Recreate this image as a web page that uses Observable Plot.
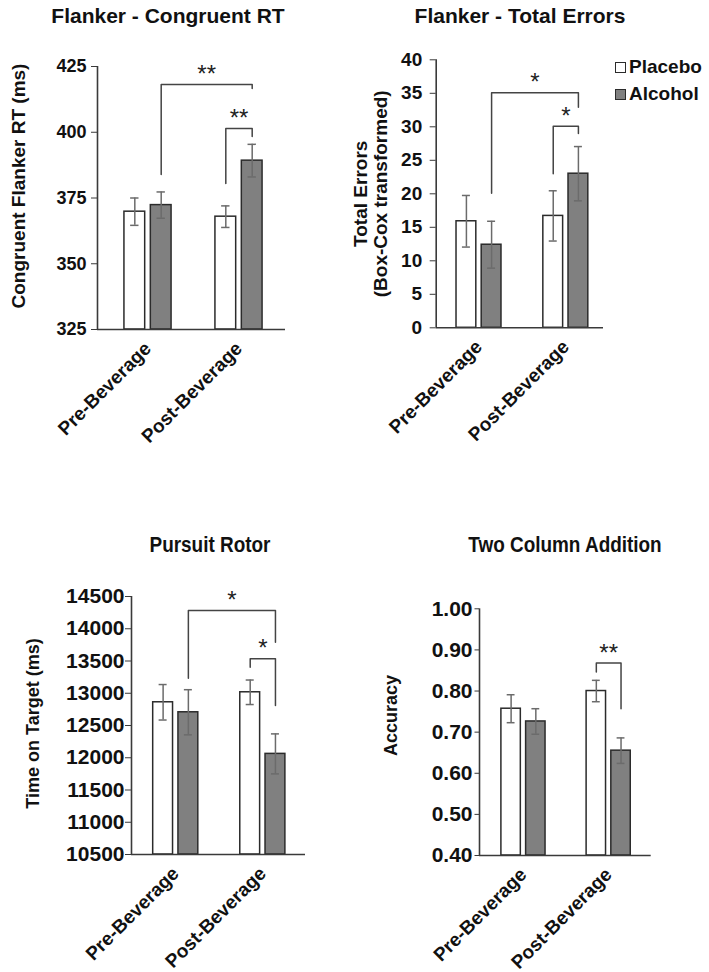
<!DOCTYPE html>
<html>
<head>
<meta charset="utf-8">
<script src="https://cdn.jsdelivr.net/npm/d3@7"></script>
<script src="https://cdn.jsdelivr.net/npm/@observablehq/plot@0.6"></script>
<style>
  html, body { margin: 0; padding: 0; background: #fff; }
  #root { position: relative; width: 709px; height: 972px; background: #fff; overflow: hidden;
          font-family: "Liberation Sans", Arial, sans-serif; color: #111; }
  .title { position: absolute; font-weight: bold; white-space: nowrap; line-height: 1; }
  .top-title { font-size: 21px; transform: translate(-50%, -50%); }
  .bottom-title { font-size: 22px; transform: translate(-50%, -50%) scaleX(0.86); }
  .panel { position: absolute; }
  .legend-item { position: absolute; display: flex; align-items: center; font-weight: bold; font-size: 19px; white-space: nowrap; transform: translateY(-50%); }
  .swatch { width: 9px; height: 9px; border: 1px solid #2b2b2b; margin-right: 3px; box-sizing: content-box; }
</style>
</head>
<body>
<div id="root"></div>
<script>
// ---------------- data ----------------
const groups = ["Pre-Beverage", "Post-Beverage"];
const conditions = ["Placebo", "Alcohol"];

// Flanker - Congruent RT (ms)
const rtPlacebo = [369.8, 367.9];
const rtAlcohol = [372.3, 389.2];
const rtPlaceboSE = [5.2, 4.1];
const rtAlcoholSE = [5.0, 6.2];
const rtTicks = [325, 350, 375, 400, 425];

// Flanker - Total Errors (Box-Cox transformed)
const errPlacebo = [15.9, 16.7];
const errAlcohol = [12.4, 23.0];
const errPlaceboSE = [3.85, 3.75];
const errAlcoholSE = [3.5, 4.05];
const errTicks = [0, 5, 10, 15, 20, 25, 30, 35, 40];

// Pursuit Rotor - Time on Target (ms)
const prPlacebo = [12860, 13015];
const prAlcohol = [12705, 12060];
const prPlaceboSE = [275, 190];
const prAlcoholSE = [350, 310];
const prTicks = [10500, 11000, 11500, 12000, 12500, 13000, 13500, 14000, 14500];

// Two Column Addition - Accuracy
const accPlacebo = [0.757, 0.800];
const accAlcohol = [0.726, 0.655];
const accPlaceboSE = [0.034, 0.026];
const accAlcoholSE = [0.031, 0.031];
const accTicks = [0.4, 0.5, 0.6, 0.7, 0.8, 0.9, 1.0];

// significance brackets (levels, in data units)
const rtBrackets = [
  {from: ["Pre-Beverage", "Alcohol"], to: ["Post-Beverage", "Alcohol"], y: 418.2, yFrom: 383.9, yTo: 416.6, label: "**"},
  {from: ["Post-Beverage", "Placebo"], to: ["Post-Beverage", "Alcohol"], y: 401.4, yFrom: 380.5, yTo: 398.4, label: "**"}
];
const errBrackets = [
  {from: ["Pre-Beverage", "Alcohol"], to: ["Post-Beverage", "Alcohol"], y: 35.1, yFrom: 20.1, yTo: 32.9, label: "*"},
  {from: ["Post-Beverage", "Placebo"], to: ["Post-Beverage", "Alcohol"], y: 30.1, yFrom: 23.0, yTo: 29.0, label: "*"}
];
const prBrackets = [
  {from: ["Pre-Beverage", "Alcohol"], to: ["Post-Beverage", "Alcohol"], y: 14283, yFrom: 13233, yTo: 13791, label: "*"},
  {from: ["Post-Beverage", "Placebo"], to: ["Post-Beverage", "Alcohol"], y: 13534, yFrom: 13404, yTo: 12810, label: "*"}
];
const accBrackets = [
  {from: ["Post-Beverage", "Placebo"], to: ["Post-Beverage", "Alcohol"], y: 0.868, yFrom: 0.846, yTo: 0.757, label: "**"}
];

// ---------------- layout ----------------
const OFF = 0.145, HW = 0.114, CAP = 0.046;
const xOf = (g, c) => groups.indexOf(g) + (conditions.indexOf(c) === 0 ? -OFF : OFF);

function buildRows(placebo, alcohol, placeboSE, alcoholSE) {
  const rows = [];
  groups.forEach((g, i) => {
    rows.push({group: g, condition: conditions[0], mean: placebo[i], se: placeboSE[i]});
    rows.push({group: g, condition: conditions[1], mean: alcohol[i], se: alcoholSE[i]});
  });
  return rows;
}
const xc = d => xOf(d.group, d.condition);

const root = document.getElementById("root");

function panel(cfg, rows, brackets) {
  const [fl, fr, ft, fb] = cfg.frame;
  const yMin = cfg.ticks[0], yMax = cfg.ticks[cfg.ticks.length - 1];
  const paths = brackets.flatMap((b, k) => {
    const x1 = xOf(...b.from), x2 = xOf(...b.to);
    return [{k, x: x1, y: b.yFrom}, {k, x: x1, y: b.y}, {k, x: x2, y: b.y}, {k, x: x2, y: b.yTo}];
  });
  const svg = Plot.plot({
    width: cfg.width, height: cfg.height,
    marginLeft: fl - cfg.left, marginRight: cfg.left + cfg.width - fr,
    marginTop: ft - cfg.top, marginBottom: cfg.top + cfg.height - fb,
    x: {type: "linear", domain: cfg.xDomain, axis: null},
    y: {type: "linear", domain: [yMin, yMax], axis: null},
    color: {domain: conditions, range: ["#ffffff", "#808080"]},
    style: {background: "transparent", overflow: "visible", color: "#111",
            fontFamily: '"Liberation Sans", Arial, sans-serif', fontSize: "18px"},
    marks: [
      Plot.rect(rows, {x1: d => xc(d) - HW, x2: d => xc(d) + HW, y1: () => yMin, y2: "mean",
                       fill: "condition", stroke: "#2b2b2b", strokeWidth: 1.5}),
      Plot.ruleX(rows, {x: xc, y1: d => d.mean - d.se, y2: d => d.mean + d.se, stroke: "#6b6b6b", strokeWidth: 1.5}),
      Plot.ruleY(rows, {x1: d => xc(d) - CAP, x2: d => xc(d) + CAP, y: d => d.mean + d.se, stroke: "#6b6b6b", strokeWidth: 1.5}),
      Plot.ruleY(rows, {x1: d => xc(d) - CAP, x2: d => xc(d) + CAP, y: d => d.mean - d.se, stroke: "#6b6b6b", strokeWidth: 1.5}),
      Plot.ruleY([yMin], {stroke: "#3a3a3a", strokeWidth: 1.6}),
      Plot.ruleX([cfg.xDomain[0]], {stroke: "#3a3a3a", strokeWidth: 1.6}),
      Plot.axisY(cfg.ticks, {tickSize: cfg.tickSize, tickPadding: cfg.tickPadding, tickFormat: cfg.tickFormat,
                             fontSize: cfg.tickFont, fontWeight: "bold", label: null, stroke: "#3a3a3a"}),
      Plot.axisX([0, 1], {tickFormat: i => groups[i], tickRotate: -45, tickSize: 0, tickPadding: cfg.xPad,
                          fontSize: 19, fontWeight: "bold", label: null}),
      Plot.text([cfg.yLabel], {text: d => d, frameAnchor: "left", textAnchor: "middle", lineAnchor: "middle",
                               rotate: -90, dx: cfg.yLabelDx, dy: cfg.yLabelDy,
                               fontSize: cfg.yLabelFont, fontWeight: "bold", lineHeight: cfg.lineHeight || 1}),
      Plot.line(paths, {x: "x", y: "y", z: "k", stroke: "#444", strokeWidth: 1.5}),
      Plot.text(brackets, {x: b => (xOf(...b.from) + xOf(...b.to)) / 2, y: "y", text: "label",
                           dy: -10, fontSize: 24, lineAnchor: "middle", fill: "#222"})
    ]
  });
  const wrap = document.createElement("div");
  wrap.className = "panel";
  wrap.style.left = cfg.left + "px";
  wrap.style.top = cfg.top + "px";
  wrap.appendChild(svg);
  root.appendChild(wrap);
}

panel({left: 0, top: 0, width: 354, height: 486, frame: [97, 285, 66, 329], xDomain: [-0.555, 1.511],
       ticks: rtTicks, tickFormat: d3.format("d"), tickSize: 6, tickPadding: 5, tickFont: 18, xPad: 16,
       yLabel: "Congruent Flanker RT (ms)", yLabelDx: -79, yLabelDy: -12, yLabelFont: 19},
      buildRows(rtPlacebo, rtAlcohol, rtPlaceboSE, rtAlcoholSE), rtBrackets);

panel({left: 354, top: 0, width: 355, height: 486, frame: [435.7, 603, 59.3, 327.3], xDomain: [-0.493, 1.434],
       ticks: errTicks, tickFormat: d3.format("d"), tickSize: 6, tickPadding: 8, tickFont: 19, xPad: 16,
       yLabel: "Total Errors\n(Box-Cox transformed)", yLabelDx: -65.4, yLabelDy: 0, yLabelFont: 19, lineHeight: 1.02},
      buildRows(errPlacebo, errAlcohol, errPlaceboSE, errAlcoholSE), errBrackets);

panel({left: 0, top: 486, width: 354, height: 486, frame: [131, 305, 596, 854], xDomain: [-0.508, 1.49],
       ticks: prTicks, tickFormat: d3.format("d"), tickSize: 6, tickPadding: 1, tickFont: 21, xPad: 16,
       yLabel: "Time on Target (ms)", yLabelDx: -98, yLabelDy: -2, yLabelFont: 18},
      buildRows(prPlacebo, prAlcohol, prPlaceboSE, prAlcoholSE), prBrackets);

panel({left: 354, top: 486, width: 355, height: 486, frame: [479, 650.7, 608.3, 855], xDomain: [-0.516, 1.499],
       ticks: accTicks, tickFormat: d3.format(".2f"), tickSize: 4.5, tickPadding: 2.5, tickFont: 21, xPad: 16,
       yLabel: "Accuracy", yLabelDx: -88.3, yLabelDy: -16.6, yLabelFont: 18},
      buildRows(accPlacebo, accAlcohol, accPlaceboSE, accAlcoholSE), accBrackets);

// titles
const titles = [
  {text: "Flanker - Congruent RT", x: 168, y: 15, cls: "top-title"},
  {text: "Flanker - Total Errors", x: 520, y: 15, cls: "top-title"},
  {text: "Pursuit Rotor", x: 210, y: 545, cls: "bottom-title"},
  {text: "Two Column Addition", x: 565, y: 545, cls: "bottom-title"}
];
for (const t of titles) {
  const el = document.createElement("div");
  el.className = "title " + t.cls;
  el.textContent = t.text;
  el.style.left = t.x + "px";
  el.style.top = t.y + "px";
  root.appendChild(el);
}

// legend
const legendFill = {Placebo: "#ffffff", Alcohol: "#808080"};
conditions.forEach((c, i) => {
  const item = document.createElement("div");
  item.className = "legend-item";
  item.style.left = "615px";
  item.style.top = (i === 0 ? 67 : 94) + "px";
  const sw = document.createElement("span");
  sw.className = "swatch";
  sw.style.background = legendFill[c];
  item.appendChild(sw);
  const label = document.createElement("span");
  label.textContent = c;
  item.appendChild(label);
  root.appendChild(item);
});
</script>
</body>
</html>
